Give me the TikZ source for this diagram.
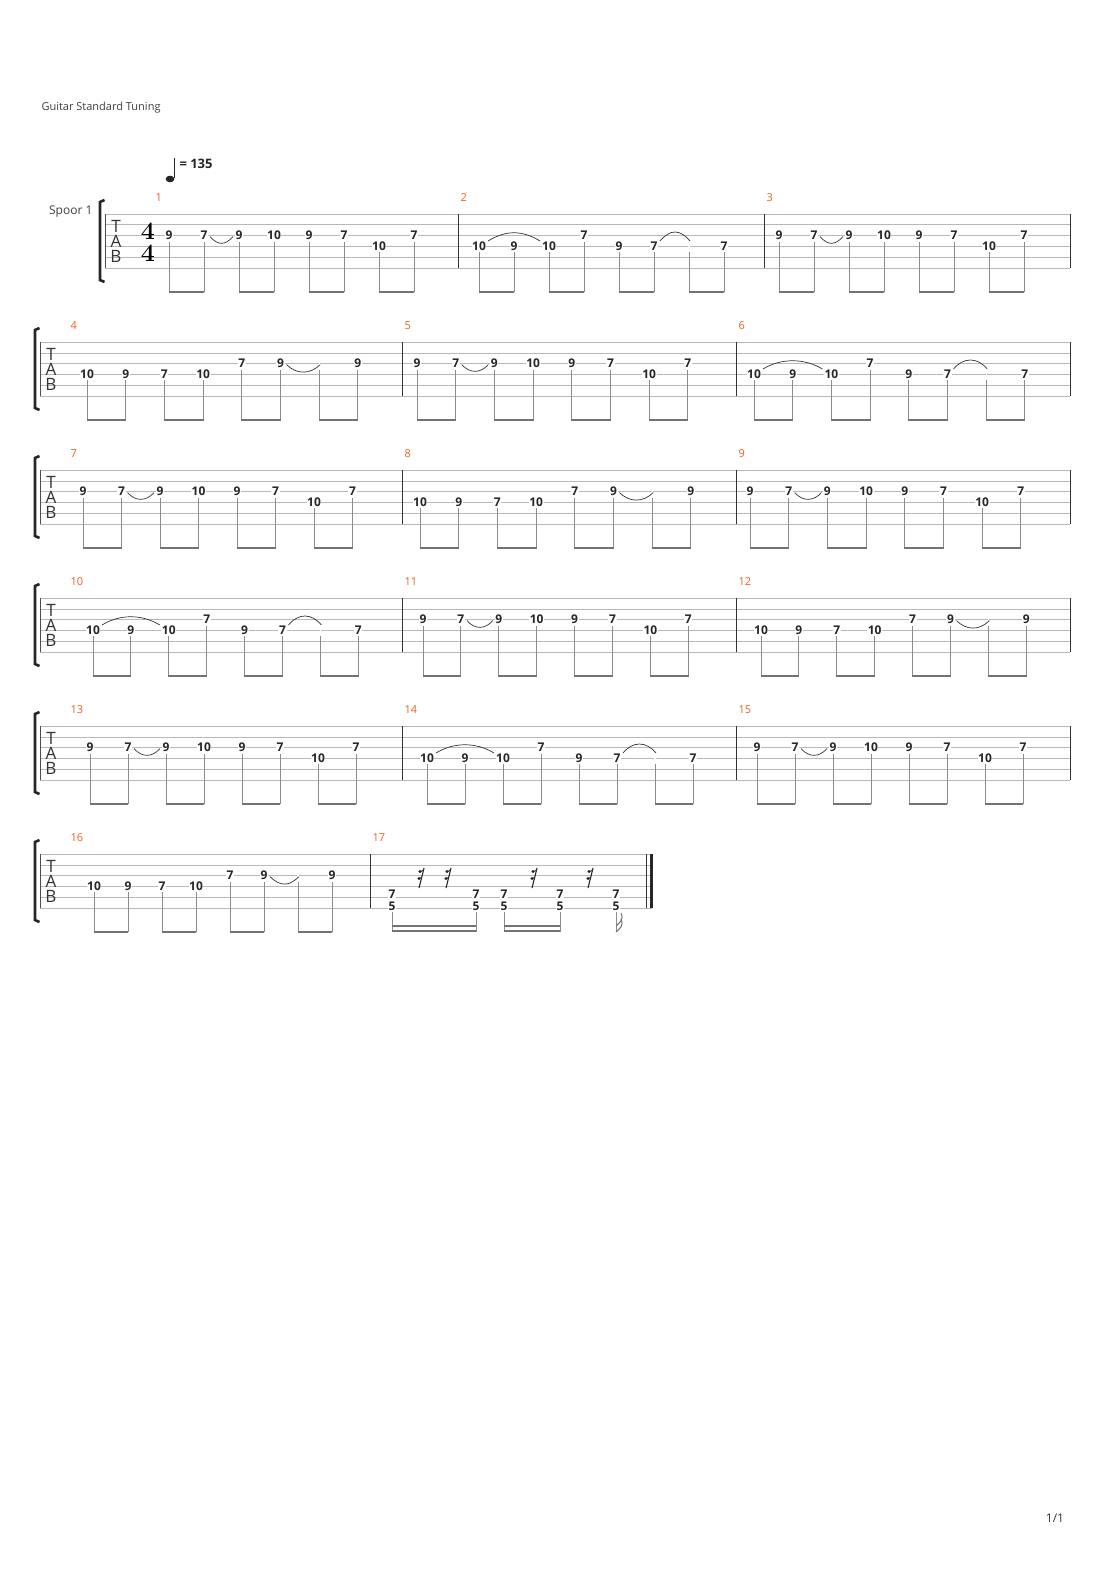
\documentclass[tikz,border=0pt]{standalone}
\usepackage{fontspec}
\setmainfont{Open Sans}
\newfontfamily\lmfont{Latin Modern Roman}
\tikzset{
 num/.style={font=\bfseries\fontsize{12}{12}\selectfont, fill=white, inner sep=0.6pt, text=black!85},
 stemline/.style={draw=black!45, line width=0.9pt},
 beamline/.style={draw=black!55, line width=2.6pt},
 staffline/.style={draw=black!28, line width=0.6pt},
 barline/.style={draw=black!80, line width=1pt},
 tiearc/.style={draw=black!80, line width=0.7pt},
 mnum/.style={font=\fontsize{11}{11}\selectfont, text={rgb,255:red,240;green,96;blue,32}, anchor=west},
 tabletter/.style={font=\fontsize{17}{17}\selectfont, text=black!80},
}
\def\patA{9/3,7/3,9/3,10/3,9/3,7/3,10/4,7/3}
\def\patB{10/4,9/4,10/4,7/3,9/4,7/4,{}/4,7/4}
\def\patC{10/4,9/4,7/4,10/4,7/3,9/3,{}/3,9/3}
\newcommand{\meas}[5]{%
 \foreach \f/\s [count=\i] in #5 {%
  \pgfmathsetmacro{\xx}{#3+(\i-1)*#4}
  \pgfmathsetmacro{\yy}{#2+(\s-1)*10.8}
  \draw[stemline] (\xx,\yy+6) -- (\xx,#2+78);
  \node[num] (m#1n\i) at (\xx,\yy) {\f};
 }
 \foreach \i in {0,2,4,6} {\draw[beamline] ({#3+\i*#4-0.45},#2+78) -- ({#3+(\i+1)*#4+0.45},#2+78);}
}
\newcommand{\tieA}[4]{\draw[tiearc] ({#2+#3+6},#1+22.6) .. controls +(8,9) and +(-8,9) .. ({#2+2*#3-6},#1+22.6);}
\newcommand{\tieB}[4]{%
 \draw[tiearc] ({#2+9},#1+27) .. controls +(18,-11) and +(-18,-11) .. ({#2+2*#3-9},#1+27);
 \draw[tiearc] ({#2+5*#3+6},#1+27) .. controls +(10,-12) and +(-10,-12) .. ({#2+6*#3+1},#1+27);}
\newcommand{\tieC}[4]{\draw[tiearc] ({#2+5*#3+6},#1+22.6) .. controls +(10,10) and +(-10,10) .. ({#2+6*#3+1},#1+22.6);}
\newcommand{\staff}[3]{%
 \foreach \k in {0,...,5} {\draw[staffline] (#2,#1+\k*10.8) -- (#3,#1+\k*10.8);}
 \draw[line width=0.7pt, black!70] (#2,#1) -- (#2,#1+54);
 \draw[line width=2.6pt, black!85] (#2-0.5,#1-14) -- (#2-5,#1-12) -- (#2-5,#1+66) -- (#2-0.5,#1+68);
 \node[tabletter] at (#2+11,#1+12) {T};
 \node[tabletter] at (#2+11,#1+27) {A};
 \node[tabletter] at (#2+11,#1+42) {B};
}
\begin{document}
\begin{tikzpicture}[x=1pt,y=-1pt]
\useasboundingbox[fill=white] (0,0) rectangle (1110,1570);
\node[anchor=west, font=\fontsize{11}{11}\selectfont, text=black!75] (hdr) at (38,108) {Guitar Standard Tuning};
\fill[black!85] (170,179) ellipse (4.4 and 3.3);
\draw[line width=0.8pt, black!85] (174.2,178) -- (174.2,158);
\node[anchor=west, font=\bfseries\fontsize{13}{13}\selectfont, text=black!85] (tempo) at (176,164) {= 135};
\node[anchor=east, font=\fontsize{12}{12}\selectfont, text=black!75] (spoor) at (96,212) {Spoor 1};
\staff{214}{105}{1070}
\node[font=\lmfont\bfseries\fontsize{25}{25}\selectfont] (ts1) at (148,231) {4};
\node[font=\lmfont\bfseries\fontsize{25}{25}\selectfont] (ts2) at (148,253) {4};
\foreach \t in {342,470,598,726} {\staff{\t}{40}{1070}}
\staff{854}{40}{652}
\foreach \x in {458,764,1070} {\draw[barline] (\x,214) -- (\x,268);}
\foreach \t in {342,470,598,726} {\foreach \x in {402,736,1070} {\draw[barline] (\x,\t) -- (\x,\t+54);}}
\draw[barline] (370,854) -- (370,908);
\draw[line width=0.8pt, black!80] (646,854) -- (646,908);
\draw[line width=3.5pt, black!85] (651.5,854) -- (651.5,908);
\foreach \n/\x/\t in {1/152/198,2/457/198,3/763/198,4/67/326,5/401/326,6/735/326,7/67/454,8/401/454,9/735/454,10/67/582,11/401/582,12/735/582,13/67/710,14/401/710,15/735/710,16/67/838,17/369/838}
 {\node[mnum] (mn\n) at (\x,\t) {\n};}
\meas{1}{214}{169}{35}{\patA} \tieA{214}{169}{35}{}
\meas{2}{214}{479}{35}{\patB} \tieB{214}{479}{35}{}
\meas{3}{214}{779}{35}{\patA} \tieA{214}{779}{35}{}
\meas{4}{342}{87}{38.7}{\patC} \tieC{342}{87}{38.7}{}
\meas{5}{342}{417}{38.7}{\patA} \tieA{342}{417}{38.7}{}
\meas{6}{342}{754}{38.7}{\patB} \tieB{342}{754}{38.7}{}
\meas{7}{470}{83}{38.5}{\patA} \tieA{470}{83}{38.5}{}
\meas{8}{470}{420}{38.7}{\patC} \tieC{470}{420}{38.7}{}
\meas{9}{470}{750}{38.7}{\patA} \tieA{470}{750}{38.7}{}
\meas{10}{598}{93}{37.9}{\patB} \tieB{598}{93}{37.9}{}
\meas{11}{598}{423}{37.9}{\patA} \tieA{598}{423}{37.9}{}
\meas{12}{598}{761}{37.9}{\patC} \tieC{598}{761}{37.9}{}
\meas{13}{726}{90}{38}{\patA} \tieA{726}{90}{38}{}
\meas{14}{726}{427}{38}{\patB} \tieB{726}{427}{38}{}
\meas{15}{726}{757}{38}{\patA} \tieA{726}{757}{38}{}
\meas{16}{854}{94}{34}{\patC} \tieC{854}{94}{34}{}
\foreach \x [count=\i] in {392,476,504,560,616} {
 \draw[stemline] (\x,912) -- (\x,932);
 \node[num] (e7n\i) at (\x,894) {7};
 \node[num] (e5n\i) at (\x,906) {5};
}
\foreach \a/\b in {392/476,504/560} {
 \draw[draw=black!55, line width=1.6pt] (\a-0.4,926) -- (\b+0.4,926);
 \draw[draw=black!55, line width=1.6pt] (\a-0.4,931) -- (\b+0.4,931);
}
\draw[draw=black!55, line width=1pt] (616,932) .. controls (620,928) and (624,926) .. (621,919);
\draw[draw=black!55, line width=1pt] (616,926) .. controls (620,922) and (624,920) .. (621,913);
\foreach \x [count=\i] in {420,447,533,589} {
 \fill[black!85] (\x,871.5) circle (1.6);
 \fill[black!85] (\x-1,878.5) circle (1.6);
 \draw[line width=1.1pt, black!85] (\x+4,868) -- (\x-1,888);
 \draw[line width=0.8pt, black!85] (\x,872) -- (\x+3.5,870);
 \draw[line width=0.8pt, black!85] (\x-1,879) -- (\x+2,877);
}
\node[font=\fontsize{12}{12}\selectfont, text=black!80] (pg) at (1055,1518) {1/1};
\end{tikzpicture}
\end{document}
